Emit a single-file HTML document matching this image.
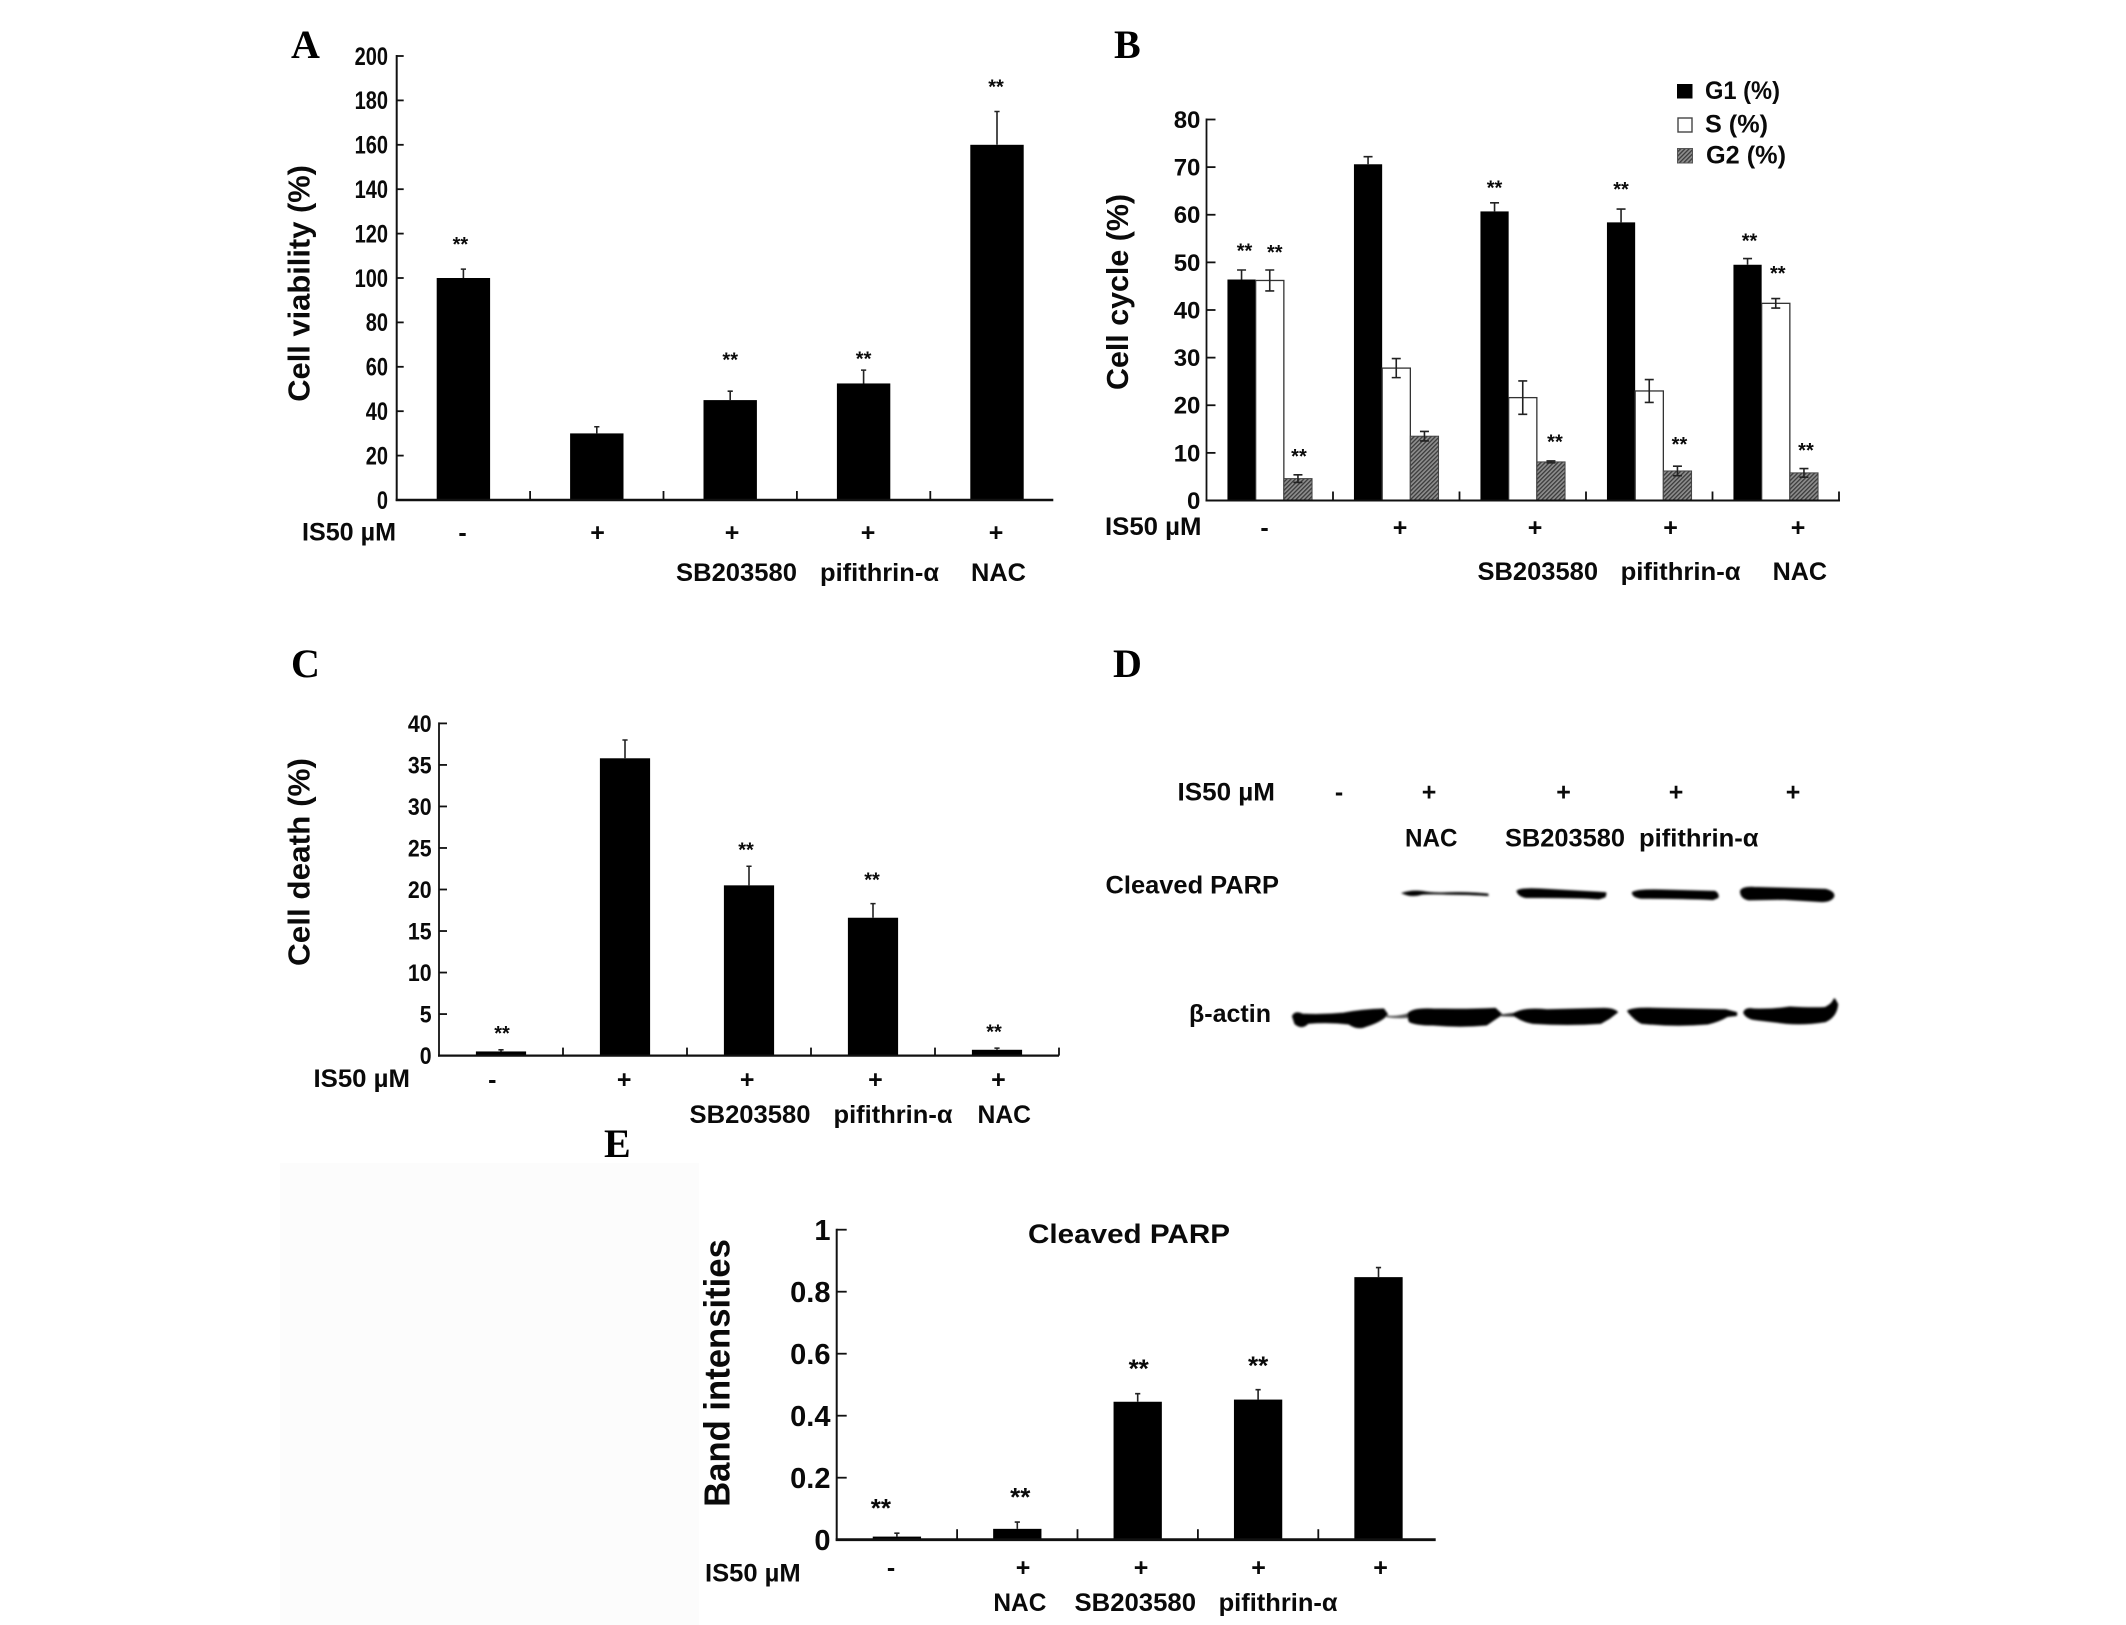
<!DOCTYPE html>
<html lang="en">
<head>
<meta charset="utf-8">
<title>IS50 panels A-E</title>
<style>
html,body{margin:0;padding:0;background:#fff;width:2126px;height:1625px;overflow:hidden}
svg{display:block}
text{font-family:"Liberation Sans",sans-serif;font-weight:bold;fill:#0a0a0a}
.lab{font-size:25px}
.letter{font-family:"Liberation Serif",serif;font-size:40px;fill:#000}
.sign{font-size:25px;text-anchor:middle}
</style>
</head>
<body>
<svg id="figure" xmlns="http://www.w3.org/2000/svg" width="2126" height="1625" viewBox="0 0 2126 1625">
<defs>
<pattern id="hatch" patternUnits="userSpaceOnUse" width="3" height="3" patternTransform="rotate(45)">
<rect width="3" height="3" fill="#8e8e8e"/>
<rect width="1.3" height="3" fill="#3a3a3a"/>
</pattern>
<filter id="soft" x="-5%" y="-30%" width="110%" height="160%"><feGaussianBlur stdDeviation="3"/></filter>
</defs>
<rect width="2126" height="1625" fill="#fff"/>
<rect x="280" y="1163" width="419" height="462" fill="#fcfcfc"/>

<text class="letter" x="291" y="58">A</text>
<text class="letter" x="1114" y="58">B</text>
<text class="letter" x="291" y="677">C</text>
<text class="letter" x="1113" y="677">D</text>
<text class="letter" x="604" y="1157">E</text>

<g id="panel-a">
<text transform="translate(309.3,283.4) rotate(-90)" font-size="31" text-anchor="middle" textLength="236.7" lengthAdjust="spacingAndGlyphs">Cell viability (%)</text>
<text class="lab" x="302" y="540.5" textLength="94" lengthAdjust="spacingAndGlyphs">IS50 µM</text>
<text class="sign" x="462.5" y="541">-</text>
<text class="sign" x="597.5" y="541">+</text>
<text class="sign" x="732" y="541">+</text>
<text class="sign" x="868" y="541">+</text>
<text class="sign" x="996" y="541">+</text>
<text class="lab" x="676" y="581" textLength="121" lengthAdjust="spacingAndGlyphs">SB203580</text>
<text class="lab" x="820" y="581" textLength="119" lengthAdjust="spacingAndGlyphs">pifithrin-α</text>
<text class="lab" x="971" y="581" textLength="55" lengthAdjust="spacingAndGlyphs">NAC</text>
</g>

<g id="panel-b">
<text transform="translate(1128,292) rotate(-90)" font-size="31" text-anchor="middle" textLength="196" lengthAdjust="spacingAndGlyphs">Cell cycle (%)</text>
<text class="lab" x="1105" y="535" textLength="96.5" lengthAdjust="spacingAndGlyphs">IS50 µM</text>
<text class="sign" x="1264.6" y="536">-</text>
<text class="sign" x="1400" y="536">+</text>
<text class="sign" x="1535" y="536">+</text>
<text class="sign" x="1670.6" y="536">+</text>
<text class="sign" x="1798" y="536">+</text>
<text class="lab" x="1477.5" y="580" textLength="120.5" lengthAdjust="spacingAndGlyphs">SB203580</text>
<text class="lab" x="1620.6" y="580" textLength="120" lengthAdjust="spacingAndGlyphs">pifithrin-α</text>
<text class="lab" x="1772.6" y="580" textLength="54.5" lengthAdjust="spacingAndGlyphs">NAC</text>
<g>
<rect x="1677" y="84" width="15.5" height="14.5" fill="#000"/>
<text class="lab" x="1705" y="99" textLength="75" lengthAdjust="spacingAndGlyphs">G1 (%)</text>
<rect x="1678" y="118" width="14" height="14" fill="#fff" stroke="#444" stroke-width="1.4"/>
<text class="lab" x="1705" y="132.5" textLength="63" lengthAdjust="spacingAndGlyphs">S (%)</text>
<rect x="1677.5" y="148.5" width="15" height="14.5" fill="url(#hatch)" stroke="#555" stroke-width="1"/>
<text class="lab" x="1706" y="163.5" textLength="80" lengthAdjust="spacingAndGlyphs">G2 (%)</text>
</g>
</g>

<g id="panel-c">
<text transform="translate(309.3,862) rotate(-90)" font-size="31" text-anchor="middle" textLength="208" lengthAdjust="spacingAndGlyphs">Cell death (%)</text>
<text class="lab" x="313.5" y="1087" textLength="96.5" lengthAdjust="spacingAndGlyphs">IS50 µM</text>
<text class="sign" x="492.3" y="1088">-</text>
<text class="sign" x="624.2" y="1088">+</text>
<text class="sign" x="747.2" y="1088">+</text>
<text class="sign" x="875.4" y="1088">+</text>
<text class="sign" x="998.4" y="1088">+</text>
<text class="lab" x="689.5" y="1123" textLength="121" lengthAdjust="spacingAndGlyphs">SB203580</text>
<text class="lab" x="833.5" y="1123" textLength="119" lengthAdjust="spacingAndGlyphs">pifithrin-α</text>
<text class="lab" x="977.5" y="1123" textLength="53.5" lengthAdjust="spacingAndGlyphs">NAC</text>
</g>

<g id="panel-d">
<text class="lab" x="1177.5" y="800.5" textLength="97.5" lengthAdjust="spacingAndGlyphs">IS50 µM</text>
<text class="sign" x="1339" y="800.5">-</text>
<text class="sign" x="1429" y="800.5">+</text>
<text class="sign" x="1563.5" y="800.5">+</text>
<text class="sign" x="1676" y="800.5">+</text>
<text class="sign" x="1793" y="800.5">+</text>
<text class="lab" x="1405" y="846.5" textLength="52.5" lengthAdjust="spacingAndGlyphs">NAC</text>
<text class="lab" x="1505" y="846.5" textLength="120" lengthAdjust="spacingAndGlyphs">SB203580</text>
<text class="lab" x="1639" y="846.5" textLength="119.5" lengthAdjust="spacingAndGlyphs">pifithrin-α</text>
<text class="lab" x="1105.5" y="893.5" textLength="173.5" lengthAdjust="spacingAndGlyphs">Cleaved PARP</text>
<text class="lab" x="1189" y="1022" textLength="82" lengthAdjust="spacingAndGlyphs">β-actin</text>
<g transform="translate(1290,870) scale(0.357,0.34)" filter="url(#soft)" fill="#000" stroke="#000" stroke-width="5" stroke-linejoin="round">
<path stroke-width="1" d="M312 68Q340 58 370 62Q400 68 440 66Q500 64 555 70L556 76Q500 72 440 72Q400 70 370 72Q345 80 325 73Z"/>
<path d="M637 62Q650 54 700 57L860 66L884 68L882 78L865 84Q800 79 660 80Q640 75 637 62Z"/>
<path d="M960 67Q975 58 1040 60L1190 64Q1200 70 1198 80L1185 86Q1100 82 985 82Q962 80 960 67Z"/>
<path d="M1263 62Q1268 50 1300 52L1500 58Q1525 65 1522 78Q1515 92 1490 92L1380 85L1285 87Q1263 82 1263 62Z"/>
<path d="M8 430Q15 415 35 425Q90 428 150 422Q200 412 262 410L272 425Q255 445 215 458Q190 470 165 452Q110 445 50 450Q35 468 15 452Z"/>
<path stroke="none" d="M270 428Q300 432 335 420L335 435Q300 438 270 433Z" fill="#555"/>
<path d="M330 425Q340 407 400 410Q500 412 575 408L592 425Q570 440 550 455Q480 462 400 455Q350 455 335 445Z"/>
<path stroke="none" d="M590 425L640 418L640 432L590 430Z" fill="#333"/>
<path d="M625 425Q650 405 720 412L880 408Q905 408 916 418L895 435L870 450Q780 457 680 450Q650 445 625 425Z"/>
<path d="M947 415Q960 405 1030 408Q1120 410 1220 412L1250 420L1250 427L1225 430Q1200 445 1170 452Q1080 460 985 450Q965 440 947 415Z"/>
<path d="M1272 420Q1275 405 1300 410Q1350 412 1400 404Q1470 408 1500 405Q1520 395 1525 380L1533 395Q1530 430 1500 445Q1440 455 1390 450L1310 440Q1280 438 1272 420Z"/>
</g>
</g>

<g id="panel-e">
<text x="1028" y="1243" font-size="27" textLength="202" lengthAdjust="spacingAndGlyphs">Cleaved PARP</text>
<text transform="translate(729.3,1373) rotate(-90)" font-size="36" text-anchor="middle" textLength="267.7" lengthAdjust="spacingAndGlyphs">Band intensities</text>
<text class="lab" x="705" y="1581.7" textLength="95.7" lengthAdjust="spacingAndGlyphs">IS50 µM</text>
<text class="sign" x="891" y="1576">-</text>
<text class="sign" x="1023" y="1576">+</text>
<text class="sign" x="1141" y="1576">+</text>
<text class="sign" x="1258.5" y="1576">+</text>
<text class="sign" x="1380.5" y="1576">+</text>
<text class="lab" x="993.4" y="1611" textLength="53" lengthAdjust="spacingAndGlyphs">NAC</text>
<text class="lab" x="1074.5" y="1611" textLength="121.5" lengthAdjust="spacingAndGlyphs">SB203580</text>
<text class="lab" x="1218.6" y="1611" textLength="119" lengthAdjust="spacingAndGlyphs">pifithrin-α</text>
</g>
</svg>
<script>
// Panel A: cell viability
const viabilityCategories = ['control', 'IS50', 'IS50+SB203580', 'IS50+pifithrin-a', 'IS50+NAC'];
const viabilityValues = [100, 30, 45, 52.5, 160];
const viabilityErrors = [4, 3, 4, 6, 15];
const viabilityStarGaps = [12, null, 15, 6, 12];
const viabilityTicks = [0, 20, 40, 60, 80, 100, 120, 140, 160, 180, 200];

// Panel B: cell cycle
const cycleCategories = ['control', 'IS50', 'IS50+SB203580', 'IS50+pifithrin-a', 'IS50+NAC'];
const cycleG1Values = [46.4, 70.6, 60.7, 58.4, 49.5];
const cycleG1Errors = [2, 1.6, 1.8, 2.8, 1.3];
const cycleG1StarGaps = [4.5, null, 3.6, 4.6, 4.2];
const cycleSValues = [46.2, 27.8, 21.6, 23, 41.4];
const cycleSErrors = [2.2, 2, 3.5, 2.4, 1];
const cycleSStarGaps = [4.1, null, null, null, 5.7];
const cycleG2Values = [4.6, 13.5, 8.1, 6.2, 5.8];
const cycleG2Errors = [0.8, 1, 0.2, 1, 0.9];
const cycleG2StarGaps = [4.3, null, 4.4, 5, 4.3];
const cycleTicks = [0, 10, 20, 30, 40, 50, 60, 70, 80];

// Panel C: cell death
const deathCategories = ['control', 'IS50', 'IS50+SB203580', 'IS50+pifithrin-a', 'IS50+NAC'];
const deathValues = [0.5, 35.8, 20.5, 16.6, 0.7];
const deathErrors = [0.2, 2.2, 2.3, 1.7, 0.2];
const deathStarGaps = [2.2, null, 2.2, 3.1, 2.2];
const deathTicks = [0, 5, 10, 15, 20, 25, 30, 35, 40];

// Panel E: band intensities
const bandCategories = ['control', 'IS50+NAC', 'IS50+SB203580', 'IS50+pifithrin-a', 'IS50'];
const bandValues = [0.01, 0.035, 0.445, 0.452, 0.847];
const bandErrors = [0.011, 0.022, 0.026, 0.032, 0.031];
const bandStarGaps = [0.088, 0.088, 0.088, 0.086, null];
const bandTicks = [0, 0.2, 0.4, 0.6, 0.8, 1];

const SVG_NS = 'http://www.w3.org/2000/svg';

function make(parent, tag, attrs, name) {
  const el = document.createElementNS(SVG_NS, tag);
  for (const key in attrs) el.setAttribute(key, attrs[key]);
  
  
  parent.appendChild(el);
  return el;
}

function drawChart(panelId, key, frame, categories, ticks, series) {
  const root = document.getElementById(panelId);
  const maxTick = ticks[ticks.length - 1];
  const yScale = function (v) { return frame.y0 - (v / maxTick) * (frame.y0 - frame.yTop); };
  const band = frame.step;
  const xScale = function (i) { return frame.x0 + (i + 0.5) * band; };

  // bars and error bars
  series.forEach(function (s, si) {
    const barW = frame.barW;
    const groupOffset = (si - (series.length - 1) / 2) * barW;
    categories.forEach(function (cat, i) {
      const cx = xScale(i) + groupOffset;
      const top = yScale(s.values[i]);
      make(root, 'rect', {
        x: cx - barW / 2, y: top, width: barW, height: frame.y0 - top,
        fill: s.fill, stroke: s.stroke, 'stroke-width': s.strokeWidth
      }, 'bar-' + key + '-' + s.id + '-' + (i + 1));
      const hi = yScale(s.values[i] + s.errors[i]);
      const lo = s.upperOnly ? top : yScale(s.values[i] - s.errors[i]);
      const errPath = 'M' + cx + ' ' + lo + 'V' + hi +
        'M' + (cx - frame.cap) + ' ' + hi + 'H' + (cx + frame.cap) +
        (s.upperOnly ? '' : 'M' + (cx - frame.cap) + ' ' + lo + 'H' + (cx + frame.cap));
      make(root, 'path', {
        d: errPath, stroke: '#222', 'stroke-width': 1.6, fill: 'none'
      }, 'error-bar-' + key + '-' + s.id + '-' + (i + 1));
      if (s.starGaps[i] !== null) {
        const sy = yScale(s.values[i] + s.errors[i] + s.starGaps[i]);
        const star = make(root, 'text', {
          x: cx + s.starNudge[i], y: sy + 0.435 * frame.starSize, 'font-size': frame.starSize, 'text-anchor': 'middle'
        }, 'significance-' + key + '-' + s.id + '-' + (i + 1));
        star.textContent = '**';
      }
    });
  });

  // axes
  make(root, 'line', {
    x1: frame.x0, x2: frame.x0, y1: frame.yTop - 1, y2: frame.y0 + 1, stroke: '#111', 'stroke-width': frame.yAxisW
  }, 'y-axis-' + key);
  make(root, 'line', {
    x1: frame.x0 - 1, x2: frame.xEnd, y1: frame.y0, y2: frame.y0, stroke: '#111', 'stroke-width': frame.xAxisW
  }, 'x-axis-' + key);

  // y ticks and labels
  ticks.forEach(function (t) {
    const y = yScale(t);
    make(root, 'line', {
      x1: frame.x0, x2: frame.x0 + frame.yTickLen, y1: y, y2: y, stroke: '#111', 'stroke-width': 1.8
    }, 'y-tick-' + key + '-' + t);
    const label = make(root, 'text', {
      x: frame.labelX, y: y + 0.35 * frame.tickSize, 'font-size': frame.tickSize, 'text-anchor': 'end'
    }, 'y-tick-label-' + key + '-' + t);
    label.textContent = String(t);
    if (frame.tickSquash) {
      label.setAttribute('textLength', String(t).length * 0.556 * frame.tickSize * frame.tickSquash);
      label.setAttribute('lengthAdjust', 'spacingAndGlyphs');
    }
  });

  // x ticks
  for (let i = 1; i <= frame.xTickCount; i++) {
    const x = frame.x0 + i * band;
    make(root, 'line', {
      x1: x, x2: x, y1: frame.y0, y2: frame.y0 - frame.xTickLen, stroke: '#111', 'stroke-width': 1.8
    }, 'x-tick-' + key + '-' + i);
  }
}

drawChart('panel-a', 'a',
  { x0: 396.7, xEnd: 1053.3, y0: 500, yTop: 56, step: 133.4, barW: 53.4, cap: 2.6,
    starSize: 20, labelX: 388, tickSize: 25, tickSquash: 0.8, yTickLen: 7, xTickLen: 9, xTickCount: 4, yAxisW: 2, xAxisW: 2.6 },
  viabilityCategories, viabilityTicks,
  [{ id: 'viability', values: viabilityValues, errors: viabilityErrors, starGaps: viabilityStarGaps, starNudge: [-3, 0, 0, 0, -1], upperOnly: true, fill: '#000', stroke: '#000', strokeWidth: 0 }]);

drawChart('panel-b', 'b',
  { x0: 1206.5, xEnd: 1840, y0: 500.5, yTop: 119.5, step: 126.5, barW: 28.2, cap: 4.5,
    starSize: 20, labelX: 1200.4, tickSize: 24, tickSquash: 0, yTickLen: 9, xTickLen: 9, xTickCount: 5, yAxisW: 1.8, xAxisW: 2 },
  cycleCategories, cycleTicks,
  [{ id: 'g1', values: cycleG1Values, errors: cycleG1Errors, starGaps: cycleG1StarGaps, starNudge: [3, 0, 0, 0, 2], upperOnly: true, fill: '#000', stroke: '#000', strokeWidth: 0 },
   { id: 's', values: cycleSValues, errors: cycleSErrors, starGaps: cycleSStarGaps, starNudge: [5, 0, 0, 0, 2], upperOnly: false, fill: '#fff', stroke: '#333', strokeWidth: 1.3 },
   { id: 'g2', values: cycleG2Values, errors: cycleG2Errors, starGaps: cycleG2StarGaps, starNudge: [1, 0, 4, 2, 2], upperOnly: false, fill: 'url(#hatch)', stroke: '#444', strokeWidth: 1 }]);

drawChart('panel-c', 'c',
  { x0: 439, xEnd: 1059, y0: 1055.6, yTop: 723.4, step: 124, barW: 50.2, cap: 2.6,
    starSize: 20, labelX: 431.6, tickSize: 24.5, tickSquash: 0.87, yTickLen: 8, xTickLen: 8, xTickCount: 5, yAxisW: 1.8, xAxisW: 2.2 },
  deathCategories, deathTicks,
  [{ id: 'death', values: deathValues, errors: deathErrors, starGaps: deathStarGaps, starNudge: [1, 0, -3, -1, -3], upperOnly: true, fill: '#000', stroke: '#000', strokeWidth: 0 }]);

drawChart('panel-e', 'e',
  { x0: 836.7, xEnd: 1435.7, y0: 1539.7, yTop: 1229.7, step: 120.4, barW: 48.3, cap: 2.6,
    starSize: 26, labelX: 830.5, tickSize: 29, tickSquash: 0, yTickLen: 10, xTickLen: 10.5, xTickCount: 4, yAxisW: 2, xAxisW: 2.8 },
  bandCategories, bandTicks,
  [{ id: 'intensity', values: bandValues, errors: bandErrors, starGaps: bandStarGaps, starNudge: [-16, 3, 1, 0, 0], upperOnly: true, fill: '#000', stroke: '#000', strokeWidth: 0 }]);
</script>
</body>
</html>
